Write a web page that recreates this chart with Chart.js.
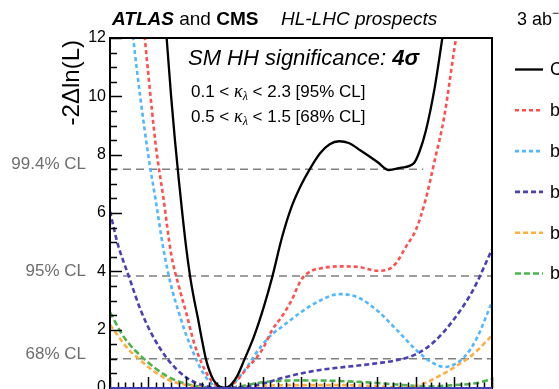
<!DOCTYPE html>
<html>
<head>
<meta charset="utf-8">
<script src="https://cdn.jsdelivr.net/npm/chart.js@4"></script>
<style>
  body { margin: 0; background: #fff; }
  canvas { display: block; }
</style>
</head>
<body>
<canvas id="chart" width="559" height="389"></canvas>
<script>
// kappa_lambda grid and -2 dln(L) values per channel
const combKappa = [-0.6, -0.5, -0.4, -0.3, -0.2, -0.1, 0, 0.1, 0.2, 0.3, 0.4, 0.5, 0.6, 0.7, 0.8, 0.9, 1.0, 1.1, 1.2, 1.33, 1.52, 1.77, 2.03, 2.25, 2.5, 2.75, 3.0, 3.25, 3.5, 3.75, 4.0, 4.25, 4.55, 5.0, 5.3, 5.6, 5.95, 6.1, 6.27, 6.5, 6.7, 6.85];
const combNll = [13.5, 11.7, 10.0, 8.5, 7.15, 5.9, 4.75, 3.8, 3.05, 2.4, 1.7, 1.05, 0.6, 0.3, 0.12, 0.03, 0, 0.04, 0.16, 0.41, 0.98, 1.77, 2.8, 3.82, 5.15, 6.2, 6.95, 7.55, 8.05, 8.36, 8.46, 8.4, 8.15, 7.75, 7.47, 7.55, 7.7, 8.1, 8.83, 10.3, 12.0, 13.3];

const redKappa = [-1.2, -1.0, -0.8, -0.6, -0.4, -0.2, 0, 0.2, 0.4, 0.6, 0.8, 1.0, 1.2, 1.42, 1.6, 1.81, 2.0, 2.25, 2.5, 2.75, 3.0, 3.25, 3.5, 4.0, 4.5, 5.0, 5.25, 5.5, 5.75, 6.0, 6.25, 6.5, 6.75, 7.0, 7.2];
const redNll = [13.5, 10.8, 8.3, 6.5, 4.6, 3.5, 2.55, 1.55, 0.85, 0.35, 0.08, 0, 0.12, 0.41, 0.7, 1.0, 1.35, 2.0, 2.45, 3.0, 3.7, 4.0, 4.1, 4.17, 4.15, 4.02, 4.05, 4.3, 4.85, 5.4, 6.4, 7.8, 9.3, 11.5, 13.2];

const cyanKappa = [-1.5, -1.4, -1.2, -1.0, -0.8, -0.6, -0.4, -0.2, 0, 0.2, 0.4, 0.6, 0.8, 1.0, 1.2, 1.4, 1.6, 1.8, 2.0, 2.25, 2.5, 3.0, 3.5, 4.0, 4.5, 5.0, 5.5, 6.0, 6.4, 6.75, 7.0, 7.3, 7.6, 8.0];
const cyanNll = [13.5, 12.1, 9.9, 8.0, 6.4, 4.75, 3.5, 2.6, 1.8, 1.15, 0.6, 0.22, 0.05, 0, 0.1, 0.4, 0.75, 1.15, 1.5, 1.85, 2.1, 2.6, 3.0, 3.22, 3.1, 2.65, 2.0, 1.32, 0.9, 0.72, 0.8, 1.1, 1.7, 2.95];

const navyKappa = [-2.0, -1.8, -1.5, -1.2, -0.9, -0.5, 0, 0.5, 1.0, 1.5, 2.0, 2.5, 3.0, 3.5, 4.0, 4.5, 5.0, 5.5, 6.0, 6.5, 7.0, 7.5, 8.0];
const navyNll = [6.05, 4.95, 3.8, 2.68, 1.83, 1.0, 0.36, 0.07, 0, 0.03, 0.15, 0.34, 0.5, 0.62, 0.7, 0.77, 0.85, 0.95, 1.15, 1.6, 2.35, 3.35, 4.75];

const orangeKappa = [-2.0, -1.5, -1.24, -1.0, -0.5, 0, 0.5, 1.0, 1.5, 2.0, 3.0, 4.0, 5.0, 5.6, 6.0, 6.3, 6.6, 7.0, 7.5, 8.0];
const orangeNll = [2.17, 1.3, 1.0, 0.72, 0.3, 0.1, 0.02, 0, 0.04, 0.08, 0.1, 0.1, 0.06, 0.02, 0.06, 0.2, 0.4, 0.7, 1.15, 1.8];

const greenKappa = [-2.0, -1.65, -1.11, -0.5, 0, 0.5, 1.0, 1.5, 2.0, 2.5, 3.0, 4.0, 5.0, 5.5, 6.0, 6.5, 7.0, 7.5, 8.0];
const greenNll = [2.6, 1.77, 1.0, 0.4, 0.14, 0.03, 0, 0.08, 0.2, 0.25, 0.26, 0.24, 0.17, 0.12, 0.07, 0.06, 0.1, 0.15, 0.3];

// legend labels (cut by the image edge in the original)
const seriesLabels = ["Combination", "bbττ", "bbγγ", "bbbb", "bbVV (ℓℓνν)", "bbZZ (4ℓ)"];

// confidence level lines
const clLabels = ["99.4% CL", "95% CL", "68% CL"];
const clValues = [7.5, 3.84, 1.0];
const clEnds = [6.2, 8, 8];

const yTicks = [0, 2, 4, 6, 8, 10, 12];

const SANS = '"Liberation Sans", Arial, sans-serif';

function pts(xs, ys) {
    return xs.map((x, i) => ({ x: x, y: ys[i] }));
}

function curve(label, xs, ys, color, dash, width) {
    return {
        label: label,
        data: pts(xs, ys),
        borderColor: color,
        borderWidth: width,
        borderDash: dash,
        pointRadius: 0,
        showLine: true,
        cubicInterpolationMode: "monotone",
        clip: 0
    };
}

const datasets = [
    curve(seriesLabels[0], combKappa, combNll, "#000000", [], 2.3),
    curve(seriesLabels[1], redKappa, redNll, "#ff4f4f", [4, 3], 2.6),
    curve(seriesLabels[2], cyanKappa, cyanNll, "#4fb8ff", [4, 3], 2.6),
    curve(seriesLabels[3], navyKappa, navyNll, "#4a40b4", [5, 3], 2.6),
    curve(seriesLabels[4], orangeKappa, orangeNll, "#ffae42", [5, 3], 2.6),
    curve(seriesLabels[5], greenKappa, greenNll, "#4cb44c", [6, 3], 2.6)
];

clValues.forEach((v, i) => {
    datasets.push({
        label: clLabels[i],
        data: [{ x: -2, y: v }, { x: clEnds[i], y: v }],
        borderColor: "#808080",
        borderWidth: 1.5,
        borderDash: [8, 5],
        pointRadius: 0,
        showLine: true,
        clip: 0
    });
});

/* FRAME, TICKS AND TEXT */
const overlay = {
    id: "overlay",
    afterDatasetsDraw(chart) {
        const ctx = chart.ctx;
        const a = chart.chartArea;
        const xs = chart.scales.x;
        const ys = chart.scales.y;

        ctx.save();
        ctx.strokeStyle = "#000";
        ctx.lineWidth = 1.5;

        // inward ticks on x axis
        for (let k = -20; k <= 80; k += 2) {
            const px = Math.round(xs.getPixelForValue(k / 10)) + 0.5;
            const len = k % 10 === 0 ? 11 : 5.5;
            ctx.beginPath();
            ctx.moveTo(px, a.bottom);
            ctx.lineTo(px, a.bottom - len);
            ctx.stroke();
        }
        // inward ticks on y axis
        for (let k = 0; k <= 24; k++) {
            const py = Math.round(ys.getPixelForValue(k / 2)) + 0.5;
            const len = k % 4 === 0 ? 12 : 7;
            ctx.beginPath();
            ctx.moveTo(a.left, py);
            ctx.lineTo(a.left + len, py);
            ctx.stroke();
        }

        // frame
        ctx.lineWidth = 2;
        ctx.strokeRect(a.left, a.top, a.right - a.left, a.bottom - a.top);
        ctx.strokeStyle = "#4040b4";
        ctx.beginPath();
        ctx.moveTo(a.left, a.bottom);
        ctx.lineTo(a.right, a.bottom);
        ctx.stroke();
        ctx.restore();
    },
    afterDraw(chart) {
        const ctx = chart.ctx;
        const a = chart.chartArea;
        const ys = chart.scales.y;

        ctx.save();
        ctx.fillStyle = "#000";

        // y tick labels
        ctx.font = "16px " + SANS;
        ctx.textAlign = "right";
        ctx.textBaseline = "middle";
        yTicks.forEach(v => ctx.fillText(String(v), a.left - 4, ys.getPixelForValue(v)));

        // CL labels
        ctx.fillStyle = "#6e6e6e";
        ctx.font = "17px " + SANS;
        ctx.textBaseline = "alphabetic";
        clValues.forEach((v, i) => ctx.fillText(clLabels[i], 86, ys.getPixelForValue(v)));

        // y axis title
        ctx.fillStyle = "#000";
        ctx.save();
        ctx.translate(79, 40);
        ctx.rotate(-Math.PI / 2);
        ctx.font = "24px " + SANS;
        ctx.textAlign = "right";
        ctx.fillText("-2Δln(L)", 0, 0);
        ctx.restore();

        // header
        ctx.textAlign = "left";
        let x = 112;
        const head = [
            ["italic bold 19px ", "ATLAS"],
            ["19px ", " and "],
            ["bold 19px ", "CMS"]
        ];
        head.forEach(h => {
            ctx.font = h[0] + SANS;
            ctx.fillText(h[1], x, 25);
            x += ctx.measureText(h[1]).width;
        });
        ctx.font = "italic 19px " + SANS;
        ctx.fillText("HL-LHC prospects", 281, 25);

        ctx.font = "18px " + SANS;
        ctx.fillText("3 ab", 517, 25);
        let w = ctx.measureText("3 ab").width;
        ctx.font = "12px " + SANS;
        ctx.fillText("−1, √s = 14 TeV", 517 + w, 17);

        // text box
        ctx.font = "italic 22px " + SANS;
        const sm = "SM HH significance: ";
        ctx.fillText(sm, 188, 65);
        w = ctx.measureText(sm).width;
        ctx.font = "italic bold 22px " + SANS;
        ctx.fillText("4σ", 188 + w, 65);

        const ranges = [["0.1", "2.3", "95% CL", 96.5], ["0.5", "1.5", "68% CL", 121.5]];
        ranges.forEach(r => {
            let px = 191;
            const by = r[3];
            ctx.font = "17px " + SANS;
            let s = r[0] + " < ";
            ctx.fillText(s, px, by);
            px += ctx.measureText(s).width;
            ctx.font = "italic 18px \"Liberation Serif\", serif";
            ctx.fillText("κ", px, by);
            px += ctx.measureText("κ").width;
            ctx.font = "italic 12px \"Liberation Serif\", serif";
            ctx.fillText("λ", px, by + 3);
            px += ctx.measureText("λ").width;
            ctx.font = "17px " + SANS;
            ctx.fillText(" < " + r[1] + " [" + r[2] + "]", px, by);
        });

        // legend
        ctx.font = "18px " + SANS;
        ctx.textBaseline = "middle";
        chart.data.datasets.slice(0, seriesLabels.length).forEach((ds, i) => {
            const ly = 69.5 + i * 40.8;
            ctx.strokeStyle = ds.borderColor;
            ctx.lineWidth = i === 0 ? 2.3 : 2.6;
            ctx.setLineDash(ds.borderDash);
            ctx.beginPath();
            ctx.moveTo(515, ly);
            ctx.lineTo(543, ly);
            ctx.stroke();
            ctx.setLineDash([]);
            ctx.fillStyle = "#000";
            ctx.fillText(ds.label, 550, ly + 1);
        });
        ctx.restore();
    }
};

new Chart(document.getElementById("chart"), {
    type: "scatter",
    data: { datasets: datasets },
    options: {
        responsive: false,
        animation: false,
        events: [],
        layout: { padding: { left: 110, right: 67, top: 38, bottom: 1 } },
        scales: {
            x: { type: "linear", min: -2, max: 8, display: false },
            y: { type: "linear", min: 0, max: 12, display: false }
        },
        plugins: {
            legend: { display: false },
            tooltip: { enabled: false }
        }
    },
    plugins: [overlay]
});
</script>
</body>
</html>
